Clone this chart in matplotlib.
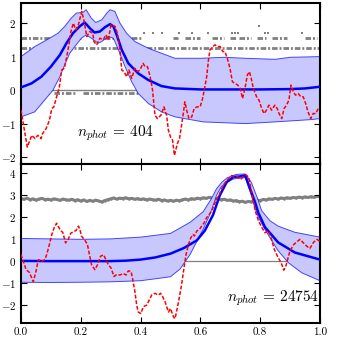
import numpy as np
import matplotlib.pyplot as plt

plt.rcParams['font.family'] = 'serif'
plt.rcParams['font.serif'] = ['cmr10', 'DejaVu Serif']
plt.rcParams['mathtext.fontset'] = 'cm'
plt.rcParams['axes.formatter.use_mathtext'] = True

# ---- top panel (n_phot = 404) ----
top_red_x = [0.0, 0.021, 0.036, 0.047, 0.056, 0.067, 0.072, 0.084, 0.095, 0.103,
             0.11, 0.119, 0.128, 0.136, 0.145, 0.153, 0.161, 0.167, 0.175, 0.183,
             0.192, 0.203, 0.21, 0.22, 0.23, 0.24, 0.244, 0.253, 0.264, 0.275,
             0.284, 0.292, 0.301, 0.315, 0.322, 0.331, 0.337, 0.345, 0.353, 0.361,
             0.37, 0.381, 0.389, 0.398, 0.408, 0.415, 0.423, 0.432, 0.44, 0.448,
             0.456, 0.468, 0.478, 0.487, 0.493, 0.5, 0.507, 0.513, 0.523, 0.53,
             0.537, 0.542, 0.548, 0.554, 0.562, 0.571, 0.579, 0.588, 0.599, 0.606,
             0.613, 0.621, 0.627, 0.632, 0.641, 0.649, 0.657, 0.666, 0.675, 0.682,
             0.69, 0.699, 0.707, 0.716, 0.725, 0.733, 0.741, 0.75, 0.757, 0.764,
             0.77, 0.777, 0.788, 0.796, 0.805, 0.813, 0.821, 0.829, 0.838, 0.849,
             0.857, 0.863, 0.872, 0.88, 0.888, 0.896, 0.903, 0.911, 0.918, 0.927,
             0.936, 0.944, 0.952, 0.96, 0.969, 0.977, 0.986, 0.994, 1.0]
top_red_y = [-0.6, -1.7, -1.35, -1.45, -1.35, -1.45, -1.3, -1.15, -0.9, -0.55,
             -0.5, -0.2, 0.08, 0.6, 0.65, 1.0, 1.4, 1.75, 2.0, 1.8,
             1.95, 2.35, 2.1, 1.6, 1.75, 1.7, 1.45, 1.35, 1.55, 1.5,
             1.65, 1.5, 1.95, 1.9, 1.7, 1.2, 0.6, 0.55, 0.4, 0.6,
             0.35, 0.65, 0.55, 0.6, 0.8, 0.7, 0.7, 0.4, 0.0, -0.75,
             -0.85, -0.75, -0.5, -0.75, -1.2, -1.4, -1.5, -1.95, -1.6, -1.45,
             -1.05, -0.75, -0.35, -0.6, -0.85, -0.8, -0.55, -0.5, -0.5, -0.3,
             0.0, 0.4, 0.9, 1.2, 1.3, 1.35, 1.3, 1.3, 1.15, 1.15,
             0.95, 0.65, 0.25, 0.2, 0.15, 0.05, -0.25, 0.1, 0.45, 0.55,
             0.35, 0.05, -0.2, -0.3, -0.55, -0.7, -0.6, -0.45, -0.6, -0.45,
             -0.55, -0.7, -0.85, -0.55, -0.45, -0.3, 0.15, -0.05, -0.15, -0.1,
             -0.2, -0.2, -0.4, -0.65, -0.85, -0.7, -0.7, -0.55, -0.55]

top_mean_x = [0, 0.035, 0.068, 0.1, 0.13, 0.152, 0.174, 0.196, 0.213, 0.23, 0.246, 0.264,
              0.281, 0.298, 0.309, 0.32, 0.337, 0.359, 0.392, 0.426, 0.47, 0.515, 0.6,
              0.7, 0.8, 0.9, 0.95, 1.0]
top_mean_y = [0.08, 0.2, 0.4, 0.7, 1.05, 1.4, 1.7, 1.9, 2.02, 1.85, 1.72, 1.75,
              1.88, 1.97, 1.9, 1.65, 1.2, 0.8, 0.5, 0.3, 0.12, 0.05, 0.02,
              0.02, 0.02, 0.03, 0.05, 0.1]

top_up_x = [0, 0.046, 0.09, 0.124, 0.146, 0.168, 0.185, 0.207, 0.218, 0.235, 0.25, 0.27,
            0.287, 0.298, 0.314, 0.331, 0.353, 0.381, 0.426, 0.47, 0.515, 0.6, 0.68,
            0.75, 0.85, 0.9, 1.0]
top_up_y = [1.0, 1.3, 1.52, 1.7, 1.9, 2.15, 2.3, 2.32, 2.4, 2.15, 2.02, 2.1,
            2.3, 2.4, 2.35, 2.0, 1.7, 1.45, 1.25, 1.1, 0.95, 0.95, 0.98,
            0.95, 0.92, 0.98, 1.0]
top_lo_x = [0, 0.046, 0.079, 0.107, 0.13, 0.146, 0.163, 0.18, 0.202, 0.218, 0.235, 0.258,
            0.27, 0.292, 0.309, 0.326, 0.348, 0.37, 0.392, 0.426, 0.47, 0.515, 0.61,
            0.75, 0.85, 0.972, 1.0]
top_lo_y = [-0.8, -0.65, -0.3, 0.0, 0.4, 0.75, 1.1, 1.3, 1.55, 1.65, 1.55, 1.4,
            1.45, 1.6, 1.55, 1.2, 0.7, 0.25, -0.1, -0.4, -0.65, -0.8, -0.95,
            -1.0, -0.95, -0.88, -0.85]

# photon rows: (level, [(x0, x1), ...]) and single dots
row_levels = [-0.08, 1.27, 1.55]
row_segments = [
    [(0.0, 0.1), (0.11, 0.185), (0.207, 1.0)],
    [(0.0, 1.0)],
    [(0.0, 0.15), (0.17, 0.2), (0.24, 0.31), (0.33, 0.40), (0.51, 0.525), (0.55, 0.60),
     (0.64, 0.68), (0.70, 0.72), (0.73, 0.77), (0.79, 0.82), (0.84, 0.89), (0.95, 0.99)],
]
dots_17_x = [0.41, 0.44, 0.47, 0.527, 0.573, 0.627, 0.705, 0.716, 0.727, 0.816, 0.827, 0.939]
dots_19_x = [0.796]

# ---- bottom panel (n_phot = 24754) ----
bot_red_x = [0.0, 0.008, 0.017, 0.028, 0.041, 0.05, 0.058, 0.069, 0.08, 0.086,
             0.095, 0.103, 0.111, 0.119, 0.13, 0.14, 0.149, 0.158, 0.166, 0.175,
             0.184, 0.192, 0.197, 0.202, 0.214, 0.222, 0.229, 0.236, 0.247, 0.256,
             0.266, 0.276, 0.284, 0.292, 0.301, 0.311, 0.32, 0.331, 0.342, 0.351,
             0.359, 0.368, 0.373, 0.381, 0.387, 0.392, 0.401, 0.409, 0.42, 0.429,
             0.437, 0.448, 0.459, 0.467, 0.474, 0.482, 0.493, 0.5, 0.51, 0.515,
             0.52, 0.529, 0.537, 0.545, 0.552, 0.56, 0.568, 0.575, 0.58, 0.588,
             0.597, 0.604, 0.613, 0.621, 0.63, 0.638, 0.647, 0.655, 0.664, 0.671,
             0.68, 0.688, 0.697, 0.705, 0.713, 0.722, 0.729, 0.736, 0.744, 0.752,
             0.761, 0.766, 0.775, 0.783, 0.794, 0.805, 0.816, 0.827, 0.836, 0.847,
             0.86, 0.87, 0.879, 0.886, 0.898, 0.91, 0.92, 0.933, 0.943, 0.955,
             0.966, 0.978, 0.99, 1.0]
bot_red_y = [0.31, 0.0, -0.38, -0.5, -0.92, -0.46, 0.08, 0.0, 0.08, 0.31,
             0.77, 1.22, 1.53, 1.73, 1.45, 1.3, 0.84, 1.0, 1.27, 1.35,
             1.4, 1.6, 1.45, 1.15, 0.95, 0.77, 0.3, -0.15, -0.38, -0.15,
             0.23, 0.3, 0.08, -0.15, -0.3, -0.69, -0.6, -0.62, -0.55, -0.62,
             -0.43, -0.46, -0.77, -1.38, -1.99, -2.3, -2.37, -2.06, -1.99, -1.76,
             -1.53, -1.45, -1.53, -1.45, -1.61, -1.84, -2.3, -2.14, -2.52, -2.6,
             -2.3, -1.68, -1.07, -0.3, 0.31, 0.77, 1.07, 1.22, 1.15, 1.38,
             1.45, 1.6, 1.76, 1.99, 2.14, 2.29, 2.6, 2.83, 3.06, 3.29,
             3.52, 3.67, 3.79, 3.9, 3.83, 3.86, 3.79, 3.74, 3.86, 3.93,
             3.83, 3.52, 2.9, 2.31, 1.85, 1.55, 1.3, 1.38, 1.09, 0.55,
             0.17, -0.06, -0.4, -0.2, 0.4, 0.73, 0.86, 1.0, 0.86, 0.7,
             0.58, 0.86, 1.0, 0.9]

bot_mean_x = [0, 0.1, 0.2, 0.3, 0.35, 0.4, 0.45, 0.5, 0.544, 0.588, 0.615, 0.642, 0.665,
              0.688, 0.71, 0.73, 0.75, 0.766, 0.783, 0.794, 0.816, 0.86, 0.916, 1.0]
bot_mean_y = [0.02, 0.01, 0.01, 0.01, 0.03, 0.08, 0.18, 0.35, 0.6, 0.95, 1.4, 2.1, 3.0,
              3.6, 3.83, 3.85, 3.9, 3.3, 2.68, 2.2, 1.55, 0.86, 0.4, 0.08]
bot_up_x = [0, 0.1, 0.2, 0.3, 0.4, 0.5, 0.565, 0.609, 0.637, 0.654, 0.672, 0.69, 0.72,
            0.75, 0.77, 0.79, 0.805, 0.833, 0.86, 0.916, 1.0]
bot_up_y = [1.04, 1.02, 1.0, 1.02, 1.1, 1.27, 1.77, 2.25, 2.85, 3.3, 3.6, 3.8, 3.95,
            3.97, 3.6, 2.9, 2.3, 1.84, 1.6, 1.32, 1.1]
bot_lo_x = [0, 0.1, 0.2, 0.3, 0.4, 0.5, 0.532, 0.565, 0.609, 0.634, 0.654, 0.67, 0.69,
            0.71, 0.75, 0.768, 0.783, 0.794, 0.816, 0.838, 0.86, 0.894, 0.939, 1.0]
bot_lo_y = [-0.95, -0.96, -0.95, -0.93, -0.88, -0.7, -0.35, 0.3, 1.45, 2.2, 3.0, 3.4, 3.6,
            3.74, 3.8, 3.1, 2.4, 2.0, 1.45, 0.95, 0.48, -0.06, -0.52, -0.88]

bot_gray = [2.85, 2.82, 2.87, 2.80, 2.84, 2.78, 2.83, 2.86, 2.80, 2.82,
            2.79, 2.84, 2.81, 2.77, 2.83, 2.80, 2.78, 2.82, 2.76, 2.80,
            2.74, 2.79, 2.72, 2.77, 2.73, 2.78, 2.74, 2.70, 2.76, 2.80,
            2.84, 2.88, 2.83, 2.87, 2.85, 2.89, 2.84, 2.86, 2.82, 2.85,
            2.81, 2.84, 2.79, 2.83, 2.80, 2.78, 2.82, 2.76, 2.79, 2.74,
            2.77, 2.73, 2.78, 2.75, 2.80, 2.83, 2.79, 2.85, 2.82, 2.87,
            2.84, 2.89, 2.86, 2.91, 2.87, 2.85, 2.83, 2.80, 2.82, 2.77,
            2.79, 2.74, 2.76, 2.71, 2.73, 2.68, 2.72, 2.70, 2.75, 2.78,
            2.76, 2.81, 2.79, 2.84, 2.82, 2.86, 2.83, 2.88, 2.85, 2.89,
            2.86, 2.90, 2.88, 2.92, 2.89, 2.93, 2.90, 2.94, 2.91, 2.95, 2.93]
bot_gray_x = np.linspace(0, 1, len(bot_gray))

BAND = '#c8c8ff'
BLUE = '#0000ff'
GRAY = '#808080'


def draw_band(ax, ux, uy, lx, ly, mx, my):
    px = np.concatenate([ux, lx[::-1]])
    py = np.concatenate([uy, ly[::-1]])
    ax.fill(px, py, color=BAND, lw=0, zorder=2)
    ax.plot(ux, uy, color=BLUE, lw=0.7, alpha=0.7, zorder=3)
    ax.plot(lx, ly, color=BLUE, lw=0.7, alpha=0.7, zorder=3)
    ax.plot(mx, my, color=BLUE, lw=1.8, zorder=4)


def style(ax):
    ax.tick_params(direction='in', top=True, right=True, length=4, width=0.8, labelsize=8)
    for s in ax.spines.values():
        s.set_linewidth(1.5)
    ax.set_xlim(0, 1)


fig = plt.figure(figsize=(3.41, 3.37), dpi=100)
ax1 = fig.add_axes([0.0616, 0.514, 0.8768, 0.477])
ax2 = fig.add_axes([0.0616, 0.0415, 0.8768, 0.4705])

# top
ax1.axhline(0, color=GRAY, lw=1.0, zorder=1)
for lev, segs in zip(row_levels, row_segments):
    for x0, x1 in segs:
        ax1.plot([x0, x1], [lev, lev], color=GRAY, lw=2.0,
                 linestyle=(0, (2.0, 0.7, 0.7, 0.7)), zorder=1)
ax1.plot(dots_17_x, [1.70] * len(dots_17_x), 's', color=GRAY, ms=1.8, mew=0, zorder=1)
ax1.plot(dots_19_x, [1.92] * len(dots_19_x), 's', color=GRAY, ms=1.8, mew=0, zorder=1)
draw_band(ax1, np.array(top_up_x), np.array(top_up_y), np.array(top_lo_x),
          np.array(top_lo_y), top_mean_x, top_mean_y)
ax1.plot(top_red_x, top_red_y, color='red', lw=1.1, ls='--', dashes=(2.5, 1.2), zorder=5)
ax1.text(0.315, -1.3, r'$n_{phot}\,=\,404$', ha='center', va='center', fontsize=11)
ax1.set_ylim(-2.2, 2.6)
ax1.set_yticks([-2, -1, 0, 1, 2])
ax1.set_xticks([0, 0.2, 0.4, 0.6, 0.8, 1.0])
ax1.set_xticklabels([])
style(ax1)

# bottom
ax2.axhline(0, color=GRAY, lw=0.9, zorder=1)
ax2.plot(bot_gray_x, bot_gray, color=GRAY, lw=2.2, zorder=1)
ax2.plot(bot_gray_x, bot_gray, 'o', color=GRAY, ms=1.8, mew=0, zorder=1)
draw_band(ax2, np.array(bot_up_x), np.array(bot_up_y), np.array(bot_lo_x),
          np.array(bot_lo_y), bot_mean_x, bot_mean_y)
ax2.plot(bot_red_x, bot_red_y, color='red', lw=1.1, ls='--', dashes=(2.5, 1.2), zorder=5)
ax2.text(0.843, -1.67, r'$n_{phot}\,=\,24754$', ha='center', va='center', fontsize=11)
ax2.set_ylim(-2.8, 4.4)
ax2.set_yticks([-2, -1, 0, 1, 2, 3, 4])
ax2.set_xticks([0, 0.2, 0.4, 0.6, 0.8, 1.0])
ax2.set_xticklabels(['0.0', '0.2', '0.4', '0.6', '0.8', '1.0'])
style(ax2)

fig.savefig('out.png', dpi=100)
